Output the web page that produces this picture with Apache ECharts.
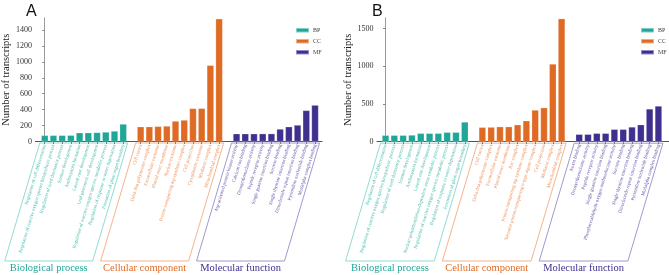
<!DOCTYPE html>
<html><head><meta charset="utf-8">
<script src="https://cdn.jsdelivr.net/npm/echarts@6/dist/echarts.min.js"></script>
<style>html,body{margin:0;padding:0;background:#fff}#c{width:669px;height:275px}</style>
</head><body><div id="c"></div>
<script>
// ---------- data ----------
const groupNames = ['Biological process', 'Cellular component', 'Molecular function'];
const seriesNames = ['BP', 'CC', 'MF'];

const bpLabelsA = ['Regulation of cell differentiation','Regulation of reactive oxygen species biosynthetic process','Regulation of seed dormancy process','Stamen development','Anthocyanin formation','Lateral root development','Leaf pavement cell development','Regulation of reactive oxygen species metabolic process','Regulation of response to water deprivation','Formation of plant organ boundary'];
const bpValuesA = [77, 77, 77, 78, 110, 110, 113, 119, 131, 219];
const ccLabelsA = ['Cell cortex','Delta dna polymerase complex','Extracellular exosome','Plastid outer membrane','Nuclear exosome','Proton-transporting atp synthase complex','Cell projection','Cytoplasmic exosome','Mediator complex','Mitochondrial complex'];
const ccValuesA = [185, 186, 190, 194, 256, 269, 415, 416, 956, 1540];
const mfLabelsA = ['Atp-activated protein kinase activity','Calcium ion binding','Deoxyribonuclease activity','Peptide receptor activity','Single guanine insertion binding','Sucrose binding','Single thymine insertion binding','Dinucleotide repeat insertion binding','Pyrimidine nucleotide binding','Mutlalpha complex binding'];
const mfValuesA = [97, 97, 97, 98, 98, 156, 185, 206, 390, 456];

const bpLabelsB = ['Regulation of cell differentiation','Regulation of reactive oxygen species biosynthetic process','Regulation of seed dormancy process','Stamen development','Anthocyanin formation','Lateral root development','Nuclear polyadenylation-dependent mrna catabolic process','Regulation of reactive oxygen species metabolic process','Regulation of response to water deprivation','Formation of plant organ boundary'];
const bpValuesB = [85, 85, 85, 88, 111, 111, 111, 125, 125, 261];
const ccLabelsB = ['Cell cortex','Delta dna polymerase complex','Extracellular exosome','Plastid outer membrane','Rsc complex','Proton-transporting atp synthase complex','Vacuolar proton-transporting v-type atpase complex','Cell projection','Mediator complex','Mitochondrial complex'];
const ccValuesB = [191, 193, 199, 199, 225, 278, 420, 451, 1030, 1631];
const mfLabelsB = ['Auxin binding','Deoxyribonuclease activity','Peptide receptor activity','Single guanine insertion binding','Phenylacetaldehyde oxygen oxidoreductase activity','Sucrose binding','Single thymine insertion binding','Dinucleotide repeat insertion binding','Pyrimidine nucleotide binding','Mutlalpha complex binding'];
const mfValuesB = [98, 98, 111, 111, 164, 164, 195, 225, 434, 473];

const yTicksA = [0, 200, 400, 600, 800, 1000, 1200, 1400];
const yTicksB = [0, 500, 1000, 1500];

// ---------- styles ----------
const barColors = ['#1fa698', '#df6a24', '#3f2f8e'];
const labelColors = ['#3fb8aa', '#ea8b52', '#5b4fa6'];
const boxColors = ['#86d6cc', '#f2ab82', '#968dc8'];
const SERIF = 'Liberation Serif';

const chart = echarts.init(document.getElementById('c'), null, {renderer: 'canvas'});

const panels = [
  {labels: [bpLabelsA, ccLabelsA, mfLabelsA], values: [bpValuesA, ccValuesA, mfValuesA], yTicks: yTicksA,
   yMax: 1550, xMin: -1.07, xMax: 31.8, grid: {left: 31, top: 18, width: 291, height: 123.5}, legendLeft: 290, title: 'A', titleLeft: 21},
  {labels: [bpLabelsB, ccLabelsB, mfLabelsB], values: [bpValuesB, ccValuesB, mfValuesB], yTicks: yTicksB,
   yMax: 1640, xMin: -0.97, xMax: 32.2, grid: {left: 377, top: 18, width: 292, height: 123.7}, legendLeft: 635, title: 'B', titleLeft: 367}
];

const grids = [], xAxes = [], yAxes = [], series = [], legends = [], titles = [];
panels.forEach((p, pi) => {
  const nameMap = {}; const groupOf = {}; const positions = [];
  p.labels.forEach((labs, g) => labs.forEach((l, i) => {
    const pos = g * 11 + i; nameMap[pos] = l; groupOf[pos] = g; positions.push(pos);
  }));
  grids.push(p.grid);
  xAxes.push({
    type: 'value', gridIndex: pi, min: p.xMin, max: p.xMax,
    splitLine: {show: false},
    axisLine: {show: true, lineStyle: {color: '#555', width: 1}},
    axisTick: {show: true, customValues: positions, length: 2.5, lineStyle: {color: '#666', width: 0.8}},
    axisLabel: {
      show: true, customValues: positions, rotate: 73, margin: 3, interval: 0,
      formatter: v => '{g' + groupOf[Math.round(v)] + '|' + (nameMap[Math.round(v)] || '') + '}',
      rich: {
        g0: {color: labelColors[0], fontSize: 4.8, fontFamily: SERIF},
        g1: {color: labelColors[1], fontSize: 4.8, fontFamily: SERIF},
        g2: {color: labelColors[2], fontSize: 4.8, fontFamily: SERIF}
      }
    }
  });
  yAxes.push({
    type: 'value', gridIndex: pi, min: 0, max: p.yMax,
    name: 'Number of transcripts', nameLocation: 'middle', nameGap: 22,
    nameTextStyle: {fontFamily: SERIF, fontSize: 10.5, color: '#222'},
    splitLine: {show: false},
    axisLine: {show: true, lineStyle: {color: '#999', width: 1}},
    axisTick: {show: true, customValues: p.yTicks, length: 2.5, lineStyle: {color: '#888'}},
    axisLabel: {customValues: p.yTicks, margin: 3.5, fontFamily: SERIF, fontSize: 8, color: '#333',
      formatter: v => String(v)}
  });
  p.values.forEach((vals, g) => {
    series.push({
      type: 'bar', name: seriesNames[g], xAxisIndex: pi, yAxisIndex: pi,
      barWidth: 7, barGap: '-100%',
      itemStyle: {color: barColors[g], borderColor: 'rgba(255,255,255,0.45)', borderWidth: 0.5},
      data: vals.map((v, i) => [g * 11 + i, v])
    });
  });
  legends.push({
    left: p.legendLeft, top: 22, orient: 'vertical', itemWidth: 13, itemHeight: 4.5, itemGap: 4.5,
    icon: 'rect', data: seriesNames, selectedMode: false,
    textStyle: {fontFamily: SERIF, fontSize: 6, color: '#444', padding: [0, 0, 0, -1]}
  });
  titles.push({text: p.title, left: p.titleLeft, top: -1,
    textStyle: {fontFamily: 'Liberation Sans', fontSize: 16, fontWeight: 'normal', color: '#111'}});
});

chart.setOption({
  animation: false,
  title: titles, grid: grids, xAxis: xAxes, yAxis: yAxes, series: series, legend: legends
});

// ---------- group boxes, positioned from the axes ----------
const graphics = [];
panels.forEach((p, pi) => {
  const y0 = chart.convertToPixel({yAxisIndex: pi}, 0) + 1.5;
  const yB = 261;
  const shift = 35;
  p.labels.forEach((labs, g) => {
    const xf = chart.convertToPixel({xAxisIndex: pi}, g * 11);
    const xl = chart.convertToPixel({xAxisIndex: pi}, g * 11 + labs.length - 1);
    const tl = [xf - 5, y0], tr = [xl + 4.5, y0];
    const br = [tr[0] - shift, yB], bl = [tl[0] - shift, yB];
    graphics.push({type: 'polygon', shape: {points: [tl, tr, br, bl]}, silent: true,
      style: {fill: 'none', stroke: boxColors[g], lineWidth: 0.9}});
    graphics.push({type: 'text', x: (bl[0] + br[0]) / 2, y: yB + 2, silent: true,
      style: {text: groupNames[g], fill: barColors[g], fontFamily: SERIF, fontSize: 10.5,
        align: 'center', verticalAlign: 'top'}});
  });
});
chart.setOption({graphic: graphics});
</script></body></html>
